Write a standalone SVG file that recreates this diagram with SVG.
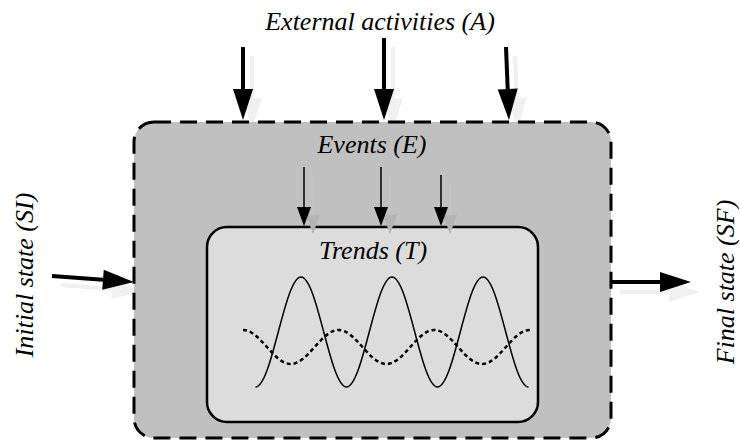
<svg xmlns="http://www.w3.org/2000/svg" width="740" height="440" viewBox="0 0 740 440">
  <style>
    .lbl { font-family: "Liberation Serif", "Times New Roman", serif; font-style: italic; font-size: 26px; fill: #000; }
    .big { stroke: #000; stroke-width: 4; fill: none; }
    .bigsh { stroke: #f0f0f0; stroke-width: 4; fill: none; }
    .small { stroke: #000; stroke-width: 1.5; fill: none; }
    .smallsh { stroke: #c4c4c4; stroke-width: 1.5; fill: none; }
  </style>
  <defs>
    <marker id="head" markerUnits="userSpaceOnUse" markerWidth="32" markerHeight="22" refX="0" refY="11" orient="auto" overflow="visible">
      <path d="M0,1 L31,11 L0,21 z" fill="#000"/>
    </marker>
    <marker id="headsh" markerUnits="userSpaceOnUse" markerWidth="32" markerHeight="22" refX="0" refY="11" orient="auto" overflow="visible">
      <path d="M0,1 L31,11 L0,21 z" fill="#f0f0f0"/>
    </marker>
    <marker id="shead" markerUnits="userSpaceOnUse" markerWidth="20" markerHeight="16" refX="0" refY="8" orient="auto" overflow="visible">
      <path d="M0,1 L19,8 L0,15 z" fill="#000"/>
    </marker>
    <marker id="sheadsh" markerUnits="userSpaceOnUse" markerWidth="20" markerHeight="16" refX="0" refY="8" orient="auto" overflow="visible">
      <path d="M0,1 L19,8 L0,15 z" fill="#b4b4b4"/>
    </marker>
  </defs>

  <g id="shadows-outer">
    <line class="bigsh" x1="252" y1="56" x2="252" y2="98" marker-end="url(#headsh)"/>
    <line class="bigsh" x1="393" y1="47" x2="393" y2="98" marker-end="url(#headsh)"/>
    <line class="bigsh" x1="515" y1="56" x2="516.7" y2="98" marker-end="url(#headsh)"/>
    <line class="bigsh" x1="61" y1="285" x2="112" y2="289" marker-end="url(#headsh)"/>
    <line class="bigsh" x1="620" y1="292" x2="669" y2="292" marker-end="url(#headsh)"/>
  </g>

  <g id="system">
    <rect x="134" y="122" width="477" height="316" rx="20" ry="20" fill="#c0c0c0" stroke="#000" stroke-width="3" stroke-dasharray="17 9"/>
    <text class="lbl" x="372" y="153" text-anchor="middle">Events (E)</text>
  </g>

  <g id="trends">
    <rect x="207" y="227" width="331" height="195" rx="20" ry="20" fill="#dcdcdc" stroke="#000" stroke-width="2.5"/>
    <text class="lbl" x="373" y="259" text-anchor="middle">Trends (T)</text>
    <path d="M255.5,387 C272,387 284.5,277 301,277 C317.5,277 330,387 346.5,387 C363,387 375.5,277 392,277 C408.5,277 421,387 437.5,387 C454,387 466.5,277 483,277 C499.5,277 512,387 528.5,387" fill="none" stroke="#000" stroke-width="1.5"/>
    <path d="M243,330 C260.4,330 273.4,364 290.8,364 C308.2,364 321.2,330 338.6,330 C356,330 369,364 386.4,364 C403.8,364 416.8,330 434.2,330 C451.6,330 464.6,364 482,364 C499.4,364 512.4,330 529.8,330" fill="none" stroke="#000" stroke-width="2.5" stroke-dasharray="4 3"/>
  </g>

  <g id="labels">
    <text class="lbl" x="380" y="30" text-anchor="middle">External activities (A)</text>
    <text class="lbl" transform="translate(33,275) rotate(-90)" text-anchor="middle">Initial state (SI)</text>
    <text class="lbl" transform="translate(734,282) rotate(-90)" text-anchor="middle">Final state (SF)</text>
  </g>

  <g id="connectors">
    <line class="smallsh" x1="313" y1="176" x2="313" y2="215" marker-end="url(#sheadsh)"/>
    <line class="smallsh" x1="390" y1="176" x2="390" y2="215" marker-end="url(#sheadsh)"/>
    <line class="smallsh" x1="450" y1="184" x2="450" y2="215" marker-end="url(#sheadsh)"/>
    <line class="big" x1="243" y1="47" x2="243" y2="89" marker-end="url(#head)"/>
    <line class="big" x1="384" y1="38" x2="384" y2="89" marker-end="url(#head)"/>
    <line class="big" x1="506" y1="47" x2="507.7" y2="89" marker-end="url(#head)"/>
    <line class="big" x1="52" y1="276" x2="103" y2="279.8" marker-end="url(#head)"/>
    <line class="big" x1="611" y1="282" x2="660" y2="282" marker-end="url(#head)"/>
    <line class="small" x1="304" y1="167" x2="304" y2="207" marker-end="url(#shead)"/>
    <line class="small" x1="381" y1="167" x2="381" y2="207" marker-end="url(#shead)"/>
    <line class="small" x1="441" y1="175" x2="441" y2="207" marker-end="url(#shead)"/>
  </g>
</svg>
